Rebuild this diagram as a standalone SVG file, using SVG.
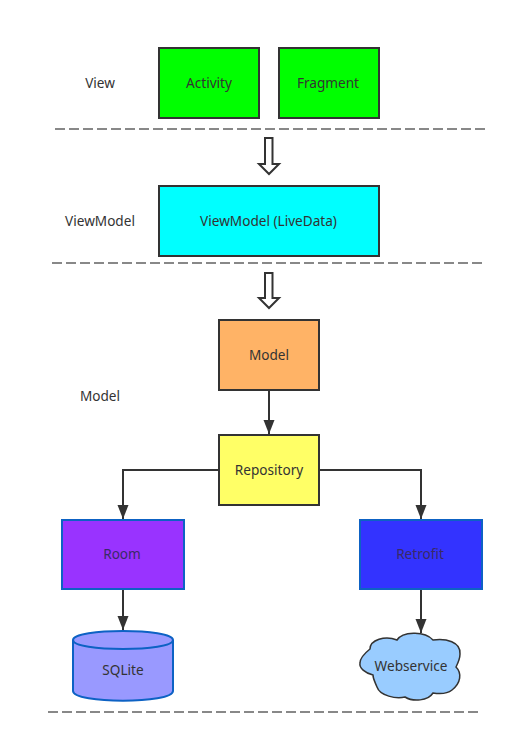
<svg xmlns="http://www.w3.org/2000/svg" width="521" height="754" viewBox="0 0 521 754">
<defs>
<style>
text{font-family:"Noto Sans","Open Sans","Liberation Sans",sans-serif;font-size:13.6px;fill:#333;text-anchor:middle}
.box{stroke:#333;stroke-width:2}
.blue{stroke:#0d62c4;stroke-width:2}
.dash{stroke:#888;stroke-width:2;stroke-dasharray:10 4;fill:none}
.hollow{fill:#fff;stroke:#333;stroke-width:2;stroke-linejoin:miter}
.conn{fill:none;stroke:#333;stroke-width:2}
.dim{fill:#3a2a66}
</style>
<marker id="ah" markerUnits="userSpaceOnUse" markerWidth="16" markerHeight="12" refX="14" refY="5.500" orient="auto">
<path d="M0 0L14 5.500L0 11Z" fill="#333"/>
</marker>
</defs>
<rect width="521" height="754" fill="#fff"/>
<g id="separators">
<line class="dash" x1="55" y1="129" x2="485" y2="129"/>
<line class="dash" x1="52" y1="263" x2="482" y2="263"/>
<line class="dash" x1="48" y1="712" x2="478" y2="712"/>
</g>
<g id="labels">
<text x="100" y="88">View</text>
<text x="100" y="226">ViewModel</text>
<text x="100" y="401">Model</text>
</g>
<g id="connectors">
<path class="hollow" d="M265 138H272.500V164H279L269 174L259 164H265Z"/>
<path class="hollow" d="M265 273H272.500V298H279L269 308L259 298H265Z"/>
<path class="conn" d="M269 390V434" marker-end="url(#ah)"/>
<path class="conn" d="M219 470H123V519" marker-end="url(#ah)"/>
<path class="conn" d="M319 470H421V519" marker-end="url(#ah)"/>
<path class="conn" d="M123 589V630" marker-end="url(#ah)"/>
<path class="conn" d="M421 589V633" marker-end="url(#ah)"/>
</g>
<g id="activity"><rect class="box" x="159" y="48" width="100" height="70" fill="#00ff00"/><text x="209" y="88">Activity</text></g>
<g id="fragment"><rect class="box" x="279" y="48" width="100" height="70" fill="#00ff00"/><text x="328" y="88">Fragment</text></g>
<g id="viewmodel"><rect class="box" x="159" y="186" width="220" height="70" fill="#00ffff"/><text x="268.500" y="226">ViewModel (LiveData)</text></g>
<g id="model"><rect class="box" x="219" y="320" width="100" height="70" fill="#ffb366"/><text x="269" y="360">Model</text></g>
<g id="repository"><rect class="box" x="219" y="435" width="100" height="70" fill="#ffff66"/><text x="269" y="475">Repository</text></g>
<g id="room"><rect class="blue" x="62" y="520" width="122" height="69" fill="#9933ff"/><text class="dim" x="122" y="559">Room</text></g>
<g id="retrofit"><rect class="blue" x="360" y="520" width="122" height="69" fill="#3333ff"/><text class="dim" x="420" y="559">Retrofit</text></g>
<g id="sqlite">
<path class="blue" fill="#9999ff" d="M73 640C73 628 173 628 173 640V691C173 704 73 704 73 691Z"/>
<path class="blue" fill="none" d="M73 640C73 652 173 652 173 640"/>
<text x="123" y="675">SQLite</text>
</g>
<g id="webservice">
<path fill="#99ccff" stroke="#333" stroke-width="1.500" d="M370 649C370 640 385 635 397 640C402 632 424 630 433 640C446 638 461 642 460 654C460 659 458 663 456 667C462 673 461 683 452 690C447 694 439 694 433 693C428 701 413 702 405 697C396 699 380 696 377 687C375 682 373 679 373 675C365 673 359 668 360 663C360 658 365 653 370 649Z"/>
<text x="411" y="671">Webservice</text>
</g>
</svg>
